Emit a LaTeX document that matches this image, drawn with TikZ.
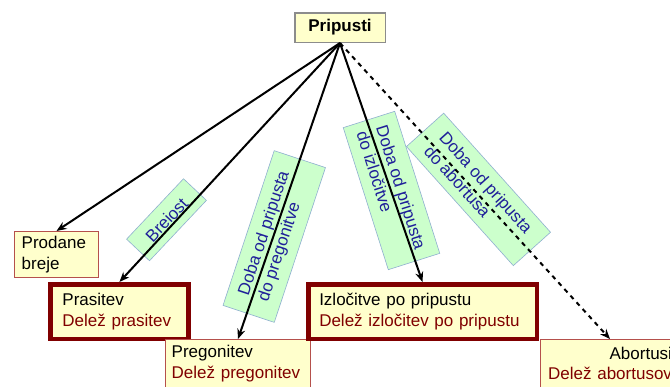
\documentclass[tikz,border=0pt]{standalone}
\usepackage{fontspec}
\setmainfont{Liberation Sans}
\usetikzlibrary{arrows.meta}
\definecolor{boxfill}{HTML}{FFFFCC}
\definecolor{boxedge}{HTML}{B5504C}
\definecolor{darkred}{HTML}{800000}
\definecolor{notefill}{HTML}{CCFFCC}
\definecolor{noteedge}{HTML}{8FAFD0}
\definecolor{notetext}{HTML}{1F1F99}
\definecolor{rootedge}{HTML}{8C8C8C}

\begin{document}
\begin{tikzpicture}[x=1pt,y=-1pt,
  every node/.style={font=\fontsize{17}{20.5}\selectfont},
  plainbox/.style={draw=boxedge, line width=1pt, fill=boxfill, anchor=north west,
                   align=left, inner ysep=0pt},
  keybox/.style={plainbox, draw=darkred, line width=4.5pt},
  notebox/.style={draw=noteedge, line width=0.6pt, fill=notefill, text=notetext,
                  align=left, inner sep=0pt},
  link/.style={line width=2pt, -{Stealth[length=10pt,width=8pt]}},
]
\useasboundingbox (0,0) rectangle (670,386);
\clip (0,0) rectangle (670,386);

% root
\node[draw=rootedge, line width=1.5pt, fill=boxfill, minimum width=90.5pt,
      minimum height=29.5pt, inner sep=0pt,
      font=\fontsize{17}{20}\selectfont\bfseries] (pripusti) at (340,27.5) {Pripusti};

% outcome boxes
\node[plainbox, minimum height=46pt, text width=69.6pt, inner xsep=7.2pt]
  (prodane) at (14,231) {Prodane\\breje};
\node[keybox, minimum height=54.5pt, text width=114pt, inner xsep=12.2pt]
  (prasitev) at (48,282) {Prasitev\\\textcolor{darkred}{Delež prasitev}};
\node[plainbox, minimum height=48pt, text width=132.6pt, inner xsep=6.2pt]
  (pregonitev) at (165,339) {Pregonitev\\\textcolor{darkred}{Delež pregonitev}};
\node[keybox, minimum height=54.5pt, text width=206.5pt, inner xsep=11pt]
  (izlocitve) at (306,282) {Izločitve po pripustu\\\textcolor{darkred}{Delež izločitev po pripustu}};
\node[plainbox, align=right, minimum height=48pt, text width=124pt, inner xsep=7.5pt]
  (abortusi) at (540,339) {Abortusi\\\textcolor{darkred}{Delež abortusov}};

% rotated notes on the connectors
\node[notebox, rotate=46.7, minimum width=83pt, minimum height=31.5pt]
  (brejost) at (166.5,219.75) {Breiost};
\node[notebox, rotate=71.7, minimum width=163pt, minimum height=54pt]
  (dobapregon) at (274.25,236.5) {Doba od pripusta\\do pregonitve};
\node[notebox, rotate=-72.4, minimum width=149pt, minimum height=54pt]
  (dobaizloc) at (391.5,190.5) {Doba od pripusta\\do izločitve};
\node[notebox, rotate=-48.1, minimum width=160pt, minimum height=50pt]
  (dobaabort) at (478.5,189.4) {Doba od pripusta\\do abortusa};

% connectors
\draw[link] (pripusti.south) -- (prodane.north);
\draw[link] (pripusti.south) -- (prasitev.north);
\draw[link] (pripusti.south) -- (pregonitev.north);
\draw[link] (pripusti.south) -- (izlocitve.north);
\draw[link, dash pattern=on 4.5pt off 4.5pt] (pripusti.south) -- (abortusi.north);
\end{tikzpicture}
\end{document}
